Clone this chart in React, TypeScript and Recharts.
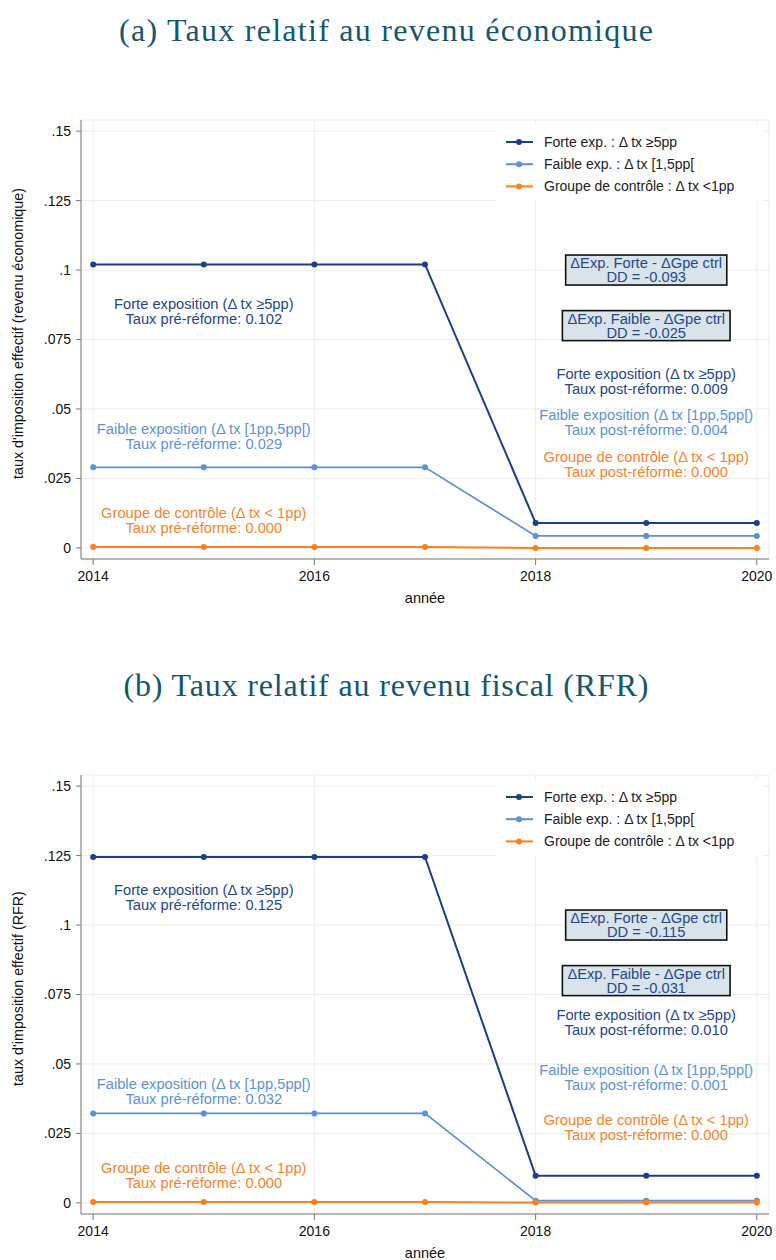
import React from 'react';
import { LineChart, Line, XAxis, YAxis, CartesianGrid, Legend, ReferenceDot } from 'recharts';

const years = [2014, 2015, 2016, 2017, 2018, 2019, 2020];
const xTicks = [2014, 2016, 2018, 2020];
const yTicks = [0, 0.025, 0.05, 0.075, 0.1, 0.125, 0.15];
const yTickLabels = ['0', '.025', '.05', '.075', '.1', '.125', '.15'];

const seriesOrder = ['forte', 'faible', 'ctrl'];
const seriesNames = {
  forte: 'Forte exp. : Δ tx ≥5pp',
  faible: 'Faible exp. : Δ tx [1,5pp[',
  ctrl: 'Groupe de contrôle : Δ tx <1pp',
};

// Panel (a) : revenu économique
const forteA = [0.102, 0.102, 0.102, 0.102, 0.009, 0.009, 0.009];
const faibleA = [0.029, 0.029, 0.029, 0.029, 0.0043, 0.0043, 0.0043];
const ctrlA = [0.0003, 0.0003, 0.0003, 0.0003, 0.0, 0.0, 0.0];

// Panel (b) : RFR
const forteB = [0.1245, 0.1245, 0.1245, 0.1245, 0.0098, 0.0098, 0.0098];
const faibleB = [0.0322, 0.0322, 0.0322, 0.0322, 0.0008, 0.0008, 0.0008];
const ctrlB = [0.0003, 0.0003, 0.0003, 0.0003, 0.0001, 0.0001, 0.0001];

type Note = { x: number; y: number; kind: 'forte' | 'faible' | 'ctrl' | 'box'; lines: string[] };

const notesA: Note[] = [
  { x: 2015, y: 0.085, kind: 'forte', lines: ['Forte exposition (Δ tx ≥5pp)', 'Taux pré-réforme: 0.102'] },
  { x: 2015, y: 0.04, kind: 'faible', lines: ['Faible exposition (Δ tx [1pp,5pp[)', 'Taux pré-réforme: 0.029'] },
  { x: 2015, y: 0.01, kind: 'ctrl', lines: ['Groupe de contrôle (Δ tx < 1pp)', 'Taux pré-réforme: 0.000'] },
  { x: 2019, y: 0.1, kind: 'box', lines: ['ΔExp. Forte - ΔGpe ctrl', 'DD = -0.093'] },
  { x: 2019, y: 0.08, kind: 'box', lines: ['ΔExp. Faible - ΔGpe ctrl', 'DD = -0.025'] },
  { x: 2019, y: 0.06, kind: 'forte', lines: ['Forte exposition (Δ tx ≥5pp)', 'Taux post-réforme: 0.009'] },
  { x: 2019, y: 0.045, kind: 'faible', lines: ['Faible exposition (Δ tx [1pp,5pp[)', 'Taux post-réforme: 0.004'] },
  { x: 2019, y: 0.03, kind: 'ctrl', lines: ['Groupe de contrôle (Δ tx < 1pp)', 'Taux post-réforme: 0.000'] },
];

const notesB: Note[] = [
  { x: 2015, y: 0.11, kind: 'forte', lines: ['Forte exposition (Δ tx ≥5pp)', 'Taux pré-réforme: 0.125'] },
  { x: 2015, y: 0.04, kind: 'faible', lines: ['Faible exposition (Δ tx [1pp,5pp[)', 'Taux pré-réforme: 0.032'] },
  { x: 2015, y: 0.01, kind: 'ctrl', lines: ['Groupe de contrôle (Δ tx < 1pp)', 'Taux pré-réforme: 0.000'] },
  { x: 2019, y: 0.1, kind: 'box', lines: ['ΔExp. Forte - ΔGpe ctrl', 'DD = -0.115'] },
  { x: 2019, y: 0.08, kind: 'box', lines: ['ΔExp. Faible - ΔGpe ctrl', 'DD = -0.031'] },
  { x: 2019, y: 0.065, kind: 'forte', lines: ['Forte exposition (Δ tx ≥5pp)', 'Taux post-réforme: 0.010'] },
  { x: 2019, y: 0.045, kind: 'faible', lines: ['Faible exposition (Δ tx [1pp,5pp[)', 'Taux post-réforme: 0.001'] },
  { x: 2019, y: 0.027, kind: 'ctrl', lines: ['Groupe de contrôle (Δ tx < 1pp)', 'Taux post-réforme: 0.000'] },
];

const LINE_COLORS = { forte: '#1b3f8a', faible: '#5a91dc', ctrl: '#ff7f1c' };
const TEXT_COLORS = { forte: '#23478f', faible: '#5b93de', ctrl: '#fb822a', box: '#23478f' };
const TITLE_COLOR = '#15586a';
const AXIS_COLOR = '#7a7a7a';

function NoteShape({ cx, cy, note }: { cx: number; cy: number; note: Note }) {
  if (cx == null || cy == null) return null;
  const lh = note.kind === 'box' ? 14 : 14.8;
  const y0 = cy - ((note.lines.length - 1) * lh) / 2;
  const maxLen = Math.max(...note.lines.map((l) => l.length));
  const w = maxLen * 6.57 + 10;
  return (
    <g>
      {note.kind === 'box' && (
        <rect x={cx - w / 2} y={cy - 15} width={w} height={30} fill="#d8e4ea" stroke="#111" strokeWidth={1.6} />
      )}
      {note.lines.map((t, i) => (
        <text
          key={i}
          x={cx}
          y={y0 + i * lh}
          textAnchor="middle"
          dominantBaseline="central"
          fontSize={14.7}
          fill={TEXT_COLORS[note.kind]}
        >
          {t}
        </text>
      ))}
    </g>
  );
}

function LegendBox(props: any) {
  const payload = [...(props.payload || [])].sort(
    (a: any, b: any) => seriesOrder.indexOf(a.dataKey) - seriesOrder.indexOf(b.dataKey)
  );
  return (
    <div style={{ width: 266, height: 76, background: '#fff', position: 'relative' }}>
      <svg width={266} height={76}>
        {payload.map((p: any, i: number) => {
          const y = 17 + i * 22.2;
          return (
            <g key={i}>
              <line x1={9} x2={36} y1={y} y2={y} stroke={p.color} strokeWidth={2} />
              <circle cx={22} cy={y} r={3} fill={p.color} />
              <text x={47} y={y} dominantBaseline="central" fontSize={14} fill="#222">
                {p.value}
              </text>
            </g>
          );
        })}
      </svg>
    </div>
  );
}

function Panel(props: {
  top: number;
  title: string;
  titleWidth: number;
  yLabel: string;
  forte: number[];
  faible: number[];
  ctrl: number[];
  notes: Note[];
}) {
  const { top, title, titleWidth, yLabel, forte, faible, ctrl, notes } = props;
  const data = years.map((yr, i) => ({ year: yr, forte: forte[i], faible: faible[i], ctrl: ctrl[i] }));
  const dot = (c: string) => ({ r: 3, fill: c, stroke: c, strokeWidth: 0 });
  return (
    <div style={{ position: 'absolute', left: 0, top, width: 776, height: 655 }}>
      <svg width={776} height={60} style={{ position: 'absolute', left: 0, top: 0 }}>
        <text
          x={386}
          y={41}
          textAnchor="middle"
          fontFamily='"Liberation Serif", serif'
          fontSize={32}
          fill={TITLE_COLOR}
          textLength={titleWidth}
          lengthAdjust="spacing"
        >
          {title}
        </text>
      </svg>
      <div style={{ position: 'absolute', left: 0, top: 0 }}>
        <LineChart width={776} height={630} data={data} margin={{ top: 120, right: 7, bottom: 21, left: 0 }}>
          <CartesianGrid stroke="#ededed" strokeWidth={1} />
          <XAxis
            dataKey="year"
            type="number"
            domain={[2013.89, 2020.11]}
            ticks={xTicks}
            height={50}
            tickSize={6}
            tickMargin={6}
            tick={{ fill: '#111', fontSize: 14 }}
            axisLine={{ stroke: AXIS_COLOR }}
            tickLine={{ stroke: AXIS_COLOR }}
            label={(lp: any) => {
              const vb = lp.viewBox || {};
              return (
                <text x={vb.x + vb.width / 2} y={vb.y + 44} textAnchor="middle" fontSize={14.5} fill="#111">
                  année
                </text>
              );
            }}
          />
          <YAxis
            type="number"
            domain={[-0.004, 0.154]}
            ticks={yTicks}
            tickFormatter={(v: number) => yTickLabels[yTicks.indexOf(v)] ?? String(v)}
            width={81}
            tickSize={5}
            tickMargin={5}
            tick={{ fill: '#111', fontSize: 14 }}
            axisLine={{ stroke: AXIS_COLOR }}
            tickLine={{ stroke: AXIS_COLOR }}
            label={(lp: any) => {
              const vb = lp.viewBox || {};
              const cy = vb.y + vb.height / 2 - 6;
              return (
                <text
                  x={18}
                  y={cy}
                  transform={`rotate(-90, 18, ${cy})`}
                  textAnchor="middle"
                  dominantBaseline="central"
                  fontSize={14.3}
                  fill="#111"
                >
                  {yLabel}
                </text>
              );
            }}
          />
          <Legend
            layout="vertical"
            align="center"
            verticalAlign="middle"
            content={LegendBox}
            wrapperStyle={{ left: 497, top: 125, width: 266, height: 76 }}
          />
          <Line
            type="linear"
            dataKey="forte"
            name={seriesNames.forte}
            stroke={LINE_COLORS.forte}
            strokeWidth={2}
            dot={dot(LINE_COLORS.forte)}
            activeDot={false}
            isAnimationActive={false}
          />
          <Line
            type="linear"
            dataKey="faible"
            name={seriesNames.faible}
            stroke={LINE_COLORS.faible}
            strokeWidth={1.7}
            dot={dot(LINE_COLORS.faible)}
            activeDot={false}
            isAnimationActive={false}
          />
          <Line
            type="linear"
            dataKey="ctrl"
            name={seriesNames.ctrl}
            stroke={LINE_COLORS.ctrl}
            strokeWidth={2}
            dot={dot(LINE_COLORS.ctrl)}
            activeDot={false}
            isAnimationActive={false}
          />
          {notes.map((n, i) => (
            <ReferenceDot
              key={i}
              x={n.x}
              y={n.y}
              r={0}
              ifOverflow="visible"
              shape={(p: any) => <NoteShape cx={p.cx} cy={p.cy} note={n} />}
            />
          ))}
        </LineChart>
      </div>
    </div>
  );
}

export default function App() {
  return (
    <div
      style={{
        position: 'absolute',
        left: 0,
        top: 0,
        width: 776,
        height: 1260,
        overflow: 'hidden',
        background: '#fff',
        fontFamily: '"Liberation Sans", Arial, sans-serif',
      }}
    >
      <Panel
        top={0}
        title="(a) Taux relatif au revenu économique"
        titleWidth={534}
        yLabel="taux d'imposition effectif (revenu économique)"
        forte={forteA}
        faible={faibleA}
        ctrl={ctrlA}
        notes={notesA}
      />
      <Panel
        top={655}
        title="(b) Taux relatif au revenu fiscal (RFR)"
        titleWidth={525}
        yLabel="taux d'imposition effectif (RFR)"
        forte={forteB}
        faible={faibleB}
        ctrl={ctrlB}
        notes={notesB}
      />
    </div>
  );
}
